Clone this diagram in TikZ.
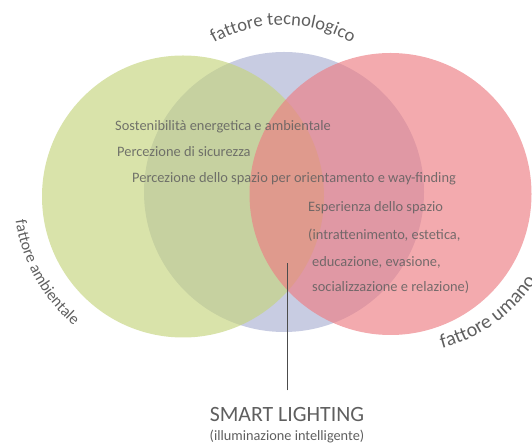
\documentclass[tikz,border=0pt]{standalone}
\usepackage{fontspec}
\setmainfont{Carlito}
\usetikzlibrary{decorations.text}
\definecolor{venngreen}{RGB}{197,212,125}
\definecolor{vennblue}{RGB}{200,204,226}
\definecolor{vennred}{RGB}{237,125,131}
\definecolor{labelgray}{RGB}{95,95,95}

\begin{document}
\begin{tikzpicture}[x=1pt,y=1pt,
  factor/.style={fill opacity=0.65},
  item/.style={anchor=base west,inner sep=0pt,font=\fontsize{14.4}{14.4}\selectfont,text=labelgray,text opacity=0.85},
  arclabel/.style 2 args={decorate,decoration={text along path,text align=center,text={|\fontsize{#1}{#1}\selectfont\color{labelgray}|#2}}}]
\clip (0,0) rectangle (532,446);
\coordinate (tech) at (284,254);
\coordinate (env) at (183,249.5);
\coordinate (human) at (390.5,252);
\coordinate (core) at (287,183);
\coordinate (techarc) at (283,281);
\coordinate (humanarc) at (400,255);
\fill[vennblue] (tech) circle[radius=140];
\fill[venngreen,factor] (env) circle[radius=141];
\fill[vennred,factor] (human) circle[radius=141];
\path[arclabel={18.5}{fattore tecnologico}] ([shift={(150:140)}]techarc) arc[start angle=150,end angle=30,radius=140];
\path[arclabel={16}{fattore ambientale}] ([shift={(174:169)}]env) arc[start angle=174,end angle=244,radius=169];
\path[arclabel={20}{fattore umano},decoration={text align=left}] ([shift={(285:163)}]humanarc) arc[start angle=285,end angle=400,radius=163];
\node[item] (sost) at (115,315) {Sostenibilità energetica e ambientale};
\node[item] (sicur) at (117,289) {Percezione di sicurezza};
\node[item] (spazio) at (132,263) {Percezione dello spazio per orientamento e way-finding};
\node[item] (esper) at (308,234) {Esperienza dello spazio};
\node[item] (intr) at (308,206) {(intrattenimento, estetica,};
\node[item] (educ) at (312,179) {educazione, evasione,};
\node[item] (social) at (312,154) {socializzazione e relazione)};
\node[anchor=base,text=labelgray,font=\fontsize{21.8}{21.8}\selectfont] (smart) at (287,24) {SMART LIGHTING};
\node[anchor=base,inner sep=0pt,text=labelgray,font=\fontsize{14.3}{14.3}\selectfont] (illum) at (287,5) {(illuminazione intelligente)};
\draw[labelgray!80!black,line width=0.8pt,shorten <=14pt] (smart) -- (core);
\end{tikzpicture}
\end{document}
